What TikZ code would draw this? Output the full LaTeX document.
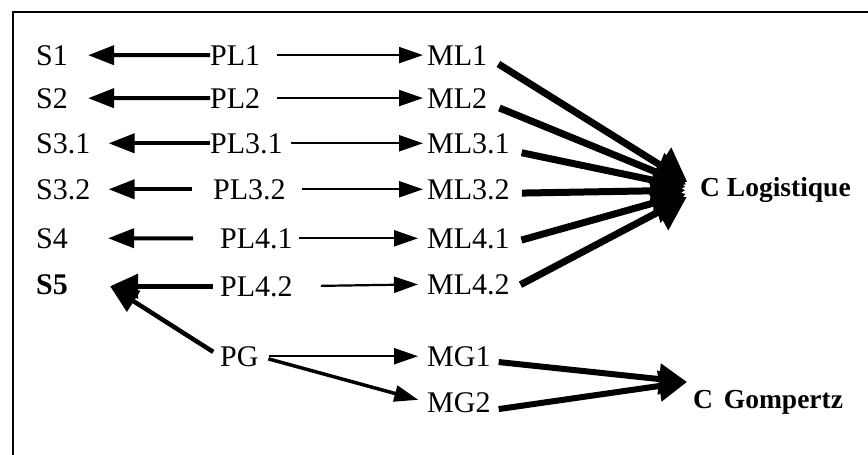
\documentclass[tikz,border=0pt]{standalone}
\usepackage{fontspec}
\setmainfont{Liberation Serif}
\usetikzlibrary{arrows.meta,calc}
\begin{document}
\begin{tikzpicture}[x=1pt,y=-1pt,
  lbl/.style={anchor=base west, inner sep=0pt, font=\fontsize{30}{30}\selectfont},
  cl/.style={anchor=west, inner sep=0pt, font=\fontsize{27.5}{27.5}\selectfont\bfseries},
  lar/.style={line width=4pt, -{Triangle[length=26pt,width=19pt]}},
  sar/.style={line width=4.5pt, -{Triangle[length=28pt,width=24pt]}},
  rar/.style={line width=2.2pt, -{Triangle[length=24pt,width=16pt]}},
  bar/.style={line width=7pt, -{Triangle[length=32pt,width=40pt]}},
  gar/.style={line width=6pt, -{Triangle[length=28pt,width=30pt]}}]
\useasboundingbox (0,0) rectangle (868,455);
\draw[line width=2.5pt] (13,455) -- (13,12) -- (868,12);

% labels
\node[lbl] (S1) at (36,65)  {S1};
\node[lbl] (S2) at (36,108) {S2};
\node[lbl] (S3) at (36,153) {S3.1};
\node[lbl] (S4) at (36,199) {S3.2};
\node[lbl] (S5) at (36,248) {S4};
\node[lbl] (S6) at (36,294) {\bfseries S5};

\node[lbl] (P1) at (210,65)  {PL1};
\node[lbl] (P2) at (210,108) {PL2};
\node[lbl] (P3) at (210,153) {PL3.1};
\node[lbl] (P4) at (213,199) {PL3.2};
\node[lbl] (P5) at (220,248) {PL4.1};
\node[lbl] (P6) at (220,296) {PL4.2};
\node[lbl] (PG) at (220,366) {PG};

\node[lbl] (M1) at (427,65)  {ML1};
\node[lbl] (M2) at (427,108) {ML2};
\node[lbl] (M3) at (427,153) {ML3.1};
\node[lbl] (M4) at (427,199) {ML3.2};
\node[lbl] (M5) at (427,248) {ML4.1};
\node[lbl] (M6) at (427,294) {ML4.2};
\node[lbl] (G1) at (427,366) {MG1};
\node[lbl] (G2) at (427,412) {MG2};

\node[cl] (CL) at (700,190) {C Logistique};
\node[cl] (CG) at (693,402) {C\hspace{4pt} Gompertz};

\coordinate (s5tip) at ($(S6.east|-P6.west)+(42,0)$);
\coordinate (gtip) at ($(CG.west)+(-6,-20)$);

% arrows to S
\draw[lar, shorten >=20pt] (P1.west) -- (S1.east);
\draw[lar, shorten >=20pt] (P2.west) -- (S2.east);
\draw[lar, shorten >=18pt] (P3.west) -- (S3.east);
\draw[lar, shorten <=21pt, shorten >=18pt] (P4.west) -- (S4.east);
\draw[lar, shorten <=27pt, shorten >=40pt] (P5.west) -- (S5.east);
\draw[sar, shorten <=7pt] (P6.west) -- (s5tip);
\draw[sar, shorten <=8pt] (PG.west) -- (s5tip);

% arrows to M
\draw[rar, shorten <=17pt, shorten >=4pt] (P1.east) -- (M1.west);
\draw[rar, shorten <=17pt, shorten >=4pt] (P2.east) -- (M2.west);
\draw[rar, shorten <=8pt, shorten >=4pt] (P3.east) -- (M3.west);
\draw[rar, shorten <=16pt, shorten >=4pt] (P4.east) -- (M4.west);
\draw[rar, shorten <=6pt, shorten >=9pt] (P5.east) -- (M5.west);
\draw[rar, shorten <=28pt, shorten >=9pt] (P6.east) -- (M6.west);
\draw[rar, shorten <=10pt, shorten >=9pt] (PG.east) -- (G1.west);
\draw[rar, line width=3.5pt, shorten <=10pt, shorten >=9pt] (PG.east) -- (G2.west);

% arrows to C Logistique
\draw[bar, shorten <=13pt, shorten >=15pt] ([yshift=-2pt]M1.east) -- (CL.west);
\draw[bar, shorten <=13pt, shorten >=15pt] ([yshift=-5pt]M2.east) -- (CL.west);
\draw[bar, shorten <=12pt, shorten >=15pt] ([yshift=-7pt]M3.east) -- (CL.west);
\draw[bar, shorten <=12pt, shorten >=15pt] ([yshift=-4pt]M4.east) -- (CL.west);
\draw[bar, shorten <=12pt, shorten >=15pt] ([yshift=-5pt]M5.east) -- (CL.west);
\draw[bar, shorten <=12pt, shorten >=15pt] ([yshift=-6pt]M6.east) -- (CL.west);

% arrows to C Gompertz
\draw[gar, shorten <=8pt] ([yshift=-5pt]G1.east) -- (gtip);
\draw[gar, shorten <=8pt] ([yshift=-8pt]G2.east) -- (gtip);
\end{tikzpicture}
\end{document}
